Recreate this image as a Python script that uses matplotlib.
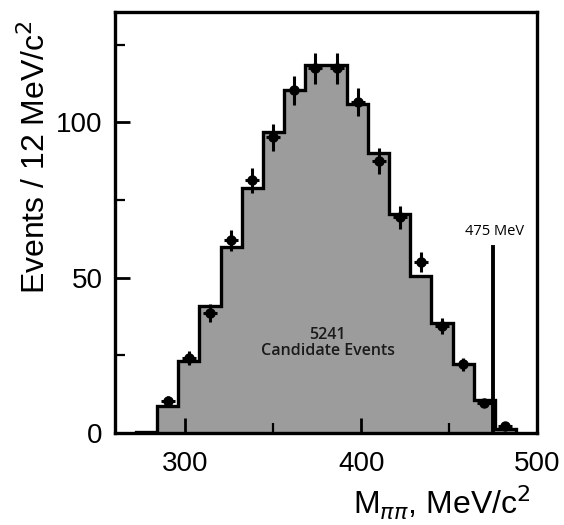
import numpy as np
import matplotlib.pyplot as plt

# bin edges of the 12 MeV bins
bin_edges = [272, 284, 296, 308, 320, 332, 344, 356, 368, 380, 392,
             404, 416, 428, 440, 452, 464, 476, 488]
# histogram heights (shaded)
hist_counts = [0.5, 8.7, 23.2, 41.0, 60.0, 79.0, 96.8, 110.3, 118.4, 118.4,
               106.0, 90.3, 70.6, 50.6, 35.5, 22.2, 10.6, 1.3]

# data points with errors (bin centres)
pt_mass = [290, 302, 314, 326, 338, 350, 362, 374, 386, 398, 410, 422, 434,
           446, 458, 470, 482]
pt_counts = [10.3, 24.2, 38.7, 62.0, 81.3, 95.2, 110.3, 117.4, 117.4, 106.5,
             87.7, 69.4, 55.0, 34.5, 22.2, 9.7, 2.3]
pt_err = [1.5, 2.2, 2.8, 3.5, 4.0, 4.4, 4.7, 4.9, 4.9, 4.6, 4.2, 3.7, 3.3,
          2.6, 2.1, 1.4, 0.7]

cut_mass = 475
cut_height = 60

plt.rcParams['font.family'] = ['Liberation Sans', 'DejaVu Sans']

fig = plt.figure(figsize=(5.64, 5.25), dpi=100)
ax = fig.add_axes([0.204, 0.175, 0.748, 0.802])

ax.stairs(hist_counts, bin_edges, fill=True, color='#9c9c9c', zorder=1)
ax.stairs(hist_counts, bin_edges, baseline=0, color='black', linewidth=2.4, zorder=2)

ax.errorbar(pt_mass, pt_counts, yerr=pt_err, xerr=4, fmt='o', color='black',
            markersize=6.5, elinewidth=2.2, capsize=0, zorder=3)

# 475 MeV cut
ax.plot([cut_mass, cut_mass], [0, cut_height], color='black', linewidth=2.8, zorder=4)
ax.text(cut_mass + 1, cut_height + 2.5, '475 MeV', ha='center', va='bottom',
        fontsize=10.5, family=['Open Sans', 'DejaVu Sans'])

ax.text(381, 29, '5241\nCandidate Events', ha='center', va='center',
        fontsize=11.5, fontweight='semibold', color='#1a1a1a', linespacing=1.05,
        family=['Open Sans', 'DejaVu Sans'], zorder=4)

ax.set_xlim(260, 500)
ax.set_ylim(0, 135.5)
ax.set_xticks([300, 400, 500])
ax.set_xticks([350, 450], minor=True)
ax.set_yticks([0, 50, 100])
ax.set_yticks([25, 75, 125], minor=True)
ax.tick_params(which='major', direction='in', length=11, width=2.0, labelsize=20,
               top=False, right=False, pad=9)
ax.tick_params(axis='x', which='major', pad=13)
ax.tick_params(which='minor', direction='in', length=7, width=1.6,
               top=False, right=False)
for s in ax.spines.values():
    s.set_linewidth(2.4)

ax.set_ylabel('Events / 12 MeV/c$^2$', fontsize=23)
ax.yaxis.set_label_coords(-0.15, 0.655)
ax.set_xlabel(r'M$_{\pi\pi}$, MeV/c$^2$', fontsize=23)
ax.xaxis.set_label_coords(0.775, -0.12)

fig.savefig('out.png', dpi=100)
